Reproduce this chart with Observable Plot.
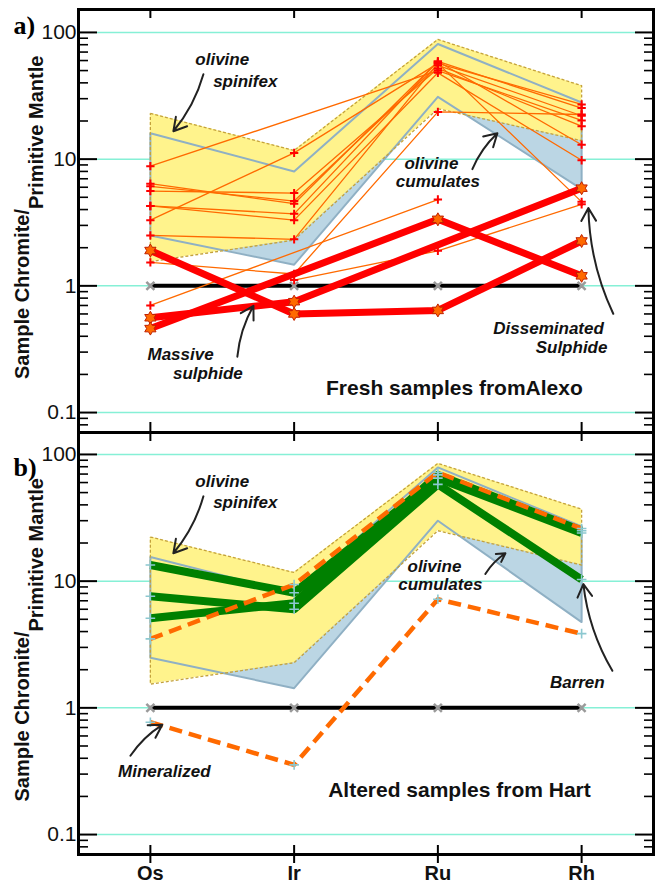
<!DOCTYPE html>
<html>
<head>
<meta charset="utf-8">
<script src="https://cdn.jsdelivr.net/npm/d3@7"></script>
<script src="https://cdn.jsdelivr.net/npm/@observablehq/plot@0.6"></script>
<style>
  body { margin: 0; background: #fff; }
  #chart { position: relative; width: 659px; height: 884px; }
  #chart svg { position: absolute; left: 0; }
</style>
</head>
<body>
<div id="chart"></div>
<script>
// ---------- data ----------
const elements = ["Os", "Ir", "Ru", "Rh"];
const elementIndex = [0, 1, 2, 3];
const yTickValues = [0.1, 1, 10, 100];
const yTickLabels = ["0.1", "1", "10", "100"];
const yMinorTicks = [0.08, 0.09, 0.2, 0.3, 0.4, 0.5, 0.6, 0.7, 0.8, 0.9, 2, 3, 4, 5, 6, 7, 8, 9, 20, 30, 40, 50, 60, 70, 80, 90];
const primitiveMantle = [1, 1, 1, 1];
const yDomainA = [0.0696, 151.7];
const yDomainB = [0.0696, 149];

// panel a : fresh samples from Alexo
const spinifexTopA = [23, 11.7, 88, 38];
const spinifexBottomA = [1.55, 2.3, 25, 14];
const cumulatesTopA = [16, 8, 81, 28];
const cumulatesBottomA = [2.5, 1.47, 31, 5.8];
const alexoThin = [
  [8.8, null, 50, 20.2],
  [3.3, 11.2, 57, 27],
  [6.4, 4.45, 59, 25.3],
  [6.1, 4.67, 55, 22],
  [5.6, 5.4, 52, 18.2],
  [4.27, 3.7, 59, 13],
  [4.27, 3.3, 48, 9.8],
  [2.5, 2.33, 57, 4.6],
  [1.53, 1.24, 23.6, 22.5],
  [0.7, null, 4.8, null],
  [null, 1.11, 1.89, 4.4]
];
const alexoSulphide = [
  [1.9, 0.6, 0.64, 2.26],
  [0.56, 0.75, null, 5.9],
  [0.46, null, 3.35, 1.2]
];

// panel b : altered samples from Hart
const spinifexTopB = [22.3, 11.7, 85, 37];
const spinifexBottomB = [1.54, 2.27, 25, 13.4];
const cumulatesTopB = [15.5, 8, 79, 27];
const cumulatesBottomB = [2.49, 1.43, 30, 4.75];
const hartBarren = [
  [13.4, 8.1, 65, 24],
  [7.6, 6.0, 58, 10.3],
  [5.1, 6.7, 69, 25]
];
const hartMineralized = [
  [3.5, 9.4, 72, 26],
  [0.77, 0.355, 7.2, 3.85]
];

// annotations (element-index x, ratio y)
const notesA = [
  {text: "olivine", x: 0.50, y: 61},
  {text: "spinifex", x: 0.66, y: 41},
  {text: "olivine", x: 1.955, y: 9.3},
  {text: "cumulates", x: 2.0, y: 6.7},
  {text: "Massive", x: 0.21, y: 0.286},
  {text: "sulphide", x: 0.40, y: 0.203},
  {text: "Disseminated", x: 2.77, y: 0.458},
  {text: "Sulphide", x: 2.93, y: 0.325}
];
const arrowsA = [
  {x1: 0.369, y1: 46.7, x2: 0.16, y2: 16.6},
  {x1: 2.24, y1: 8.34, x2: 2.414, y2: 16.0},
  {x1: 0.605, y1: 0.276, x2: 0.717, y2: 0.696},
  {x1: 3.22, y1: 0.602, x2: 3.047, y2: 4.11}
];
const captionA = [{text: "Fresh samples fromAlexo", x: 2.115, y: 0.1545}];

const notesB = [
  {text: "olivine", x: 0.50, y: 61},
  {text: "spinifex", x: 0.66, y: 41.5},
  {text: "olivine", x: 1.976, y: 13.1},
  {text: "cumulates", x: 2.017, y: 9.47},
  {text: "Barren", x: 2.97, y: 1.57},
  {text: "Mineralized", x: 0.097, y: 0.313}
];
const arrowsB = [
  {x1: 0.369, y1: 46.7, x2: 0.16, y2: 16.6},
  {x1: 2.33, y1: 11.4, x2: 2.47, y2: 16.6},
  {x1: 3.214, y1: 1.96, x2: 3.012, y2: 9.47},
  {x1: -0.139, y1: 0.419, x2: 0.083, y2: 0.735}
];
const captionB = [{text: "Altered samples from Hart", x: 2.15, y: 0.222}];

const yLabelMain = "Sample Chromite/";
const yLabelSub = "Primitive Mantle";

// ---------- helpers ----------
const FONT = "Liberation Sans, Arial, Helvetica, sans-serif";
const GRID = "#86f0d6";
const YELLOW_FILL = "#fff38c", YELLOW_LINE = "#c4a23c";
const BLUE_FILL = "#bbd6e4", BLUE_LINE = "#8fb0c4";
const FW = 575; // frame width in px (for tick insets)

const hexagram = {
  draw(context, size) {
    const r = Math.sqrt(size / Math.PI);
    const ri = r / Math.sqrt(3);
    for (let k = 0; k < 12; ++k) {
      const a = (Math.PI / 6) * k - Math.PI / 2;
      const rr = k % 2 ? ri : r;
      const px = rr * Math.cos(a), py = rr * Math.sin(a);
      if (k === 0) context.moveTo(px, py); else context.lineTo(px, py);
    }
    context.closePath();
  }
};

function seriesRows(list) {
  return list.flatMap((vals, s) => vals.map((v, i) => ({x: i, y: v, s})).filter(d => d.y != null));
}
function bandRows(top, bottom) {
  return top.map((v, i) => ({x: i, y1: bottom[i], y2: v}));
}
function ringRows(top, bottom) {
  return [...top.map((v, i) => ({x: i, y: v})),
          ...bottom.map((v, i) => ({x: i, y: v})).reverse(),
          {x: 0, y: top[0]}];
}

function fieldMarks(sTop, sBottom, cTop, cBottom) {
  return [
    Plot.ruleY(yTickValues, {stroke: GRID, strokeWidth: 1.5, insetLeft: 19, insetRight: 18}),
    Plot.areaY(bandRows(cTop, cBottom), {x: "x", y1: "y1", y2: "y2", fill: BLUE_FILL}),
    Plot.areaY(bandRows(sTop, sBottom), {x: "x", y1: "y1", y2: "y2", fill: YELLOW_FILL}),
    Plot.line(ringRows(cTop, cBottom), {x: "x", y: "y", stroke: BLUE_LINE, strokeWidth: 2}),
    Plot.line(ringRows(sTop, sBottom), {x: "x", y: "y", stroke: YELLOW_LINE, strokeWidth: 1.3, strokeDasharray: "3,2", strokeLinecap: "butt"}),
    Plot.line(primitiveMantle.map((v, i) => ({x: i, y: v})), {x: "x", y: "y", stroke: "#000", strokeWidth: 4, strokeLinecap: "butt"}),
    Plot.dot(primitiveMantle.map((v, i) => ({x: i, y: v})), {x: "x", y: "y", symbol: "times", r: 3.7, stroke: "#9a9a9a", strokeWidth: 2.5})
  ];
}

function frameMarks(frameH, panelLabel, labelDy, bottomTicksOut) {
  return [
    Plot.ruleY(yTickValues, {insetRight: FW - 19, stroke: "#000", strokeWidth: 2}),
    Plot.ruleY(yTickValues, {insetLeft: FW - 18, stroke: "#000", strokeWidth: 2}),
    Plot.ruleY(yMinorTicks, {insetRight: FW - 10, stroke: "#000", strokeWidth: 1.6}),
    Plot.ruleY(yMinorTicks, {insetLeft: FW - 9, stroke: "#000", strokeWidth: 1.6}),
    Plot.ruleX(elementIndex, {insetBottom: frameH - 9, stroke: "#000", strokeWidth: 2}),
    Plot.ruleX(elementIndex, {insetTop: frameH - (bottomTicksOut ? 9 : 10), insetBottom: bottomTicksOut ? -9 : 0, stroke: "#000", strokeWidth: 2}),
    Plot.frame({stroke: "#000", strokeWidth: 3}),
    Plot.text(yTickValues, {y: d => d, text: (d, i) => yTickLabels[i], frameAnchor: "left", textAnchor: "end", lineAnchor: "middle", dx: -2, fontSize: 21, fill: "#111"}),
    Plot.text([yLabelMain], {text: d => d, frameAnchor: "left", rotate: -90, textAnchor: "end", lineAnchor: "middle", dx: -56, dy: -12, fontSize: 20, fontWeight: "bold", fill: "#111"}),
    Plot.text([yLabelSub], {text: d => d, frameAnchor: "left", rotate: -90, textAnchor: "start", lineAnchor: "middle", dx: -42, dy: -12, fontSize: 20, fontWeight: "bold", fill: "#111"}),
    Plot.text([panelLabel], {text: d => d, frameAnchor: "top-left", textAnchor: "start", lineAnchor: "middle", dx: -65, dy: labelDy, fontFamily: "Liberation Serif, Times New Roman, serif", fontWeight: "bold", fontSize: 26, fill: "#000"})
  ];
}

function annotationMarks(notes, arrows, caption) {
  return [
    Plot.arrow(arrows, {x1: "x1", y1: "y1", x2: "x2", y2: "y2", stroke: "#222", strokeWidth: 2, headLength: 11, bend: 12}),
    Plot.text(notes, {x: "x", y: "y", text: "text", fontSize: 17, fontWeight: "bold", fontStyle: "italic", fill: "#111"}),
    Plot.text(caption, {x: "x", y: "y", text: "text", fontSize: 21, fontWeight: "bold", fill: "#111"})
  ];
}

const common = {
  width: 659, marginLeft: 78, marginRight: 6,
  x: {domain: [-0.5, 3.5], axis: null}
};

// ---------- panel a ----------
const thinRows = seriesRows(alexoThin);
const thickRows = seriesRows(alexoSulphide);
const plotA = Plot.plot({
  ...common,
  height: 432, marginTop: 9, marginBottom: 0,
  style: {background: "transparent", overflow: "visible", fontFamily: FONT},
  y: {type: "log", domain: yDomainA, axis: null},
  marks: [
    ...fieldMarks(spinifexTopA, spinifexBottomA, cumulatesTopA, cumulatesBottomA),
    Plot.line(thinRows, {x: "x", y: "y", z: "s", stroke: "#ff6a00", strokeWidth: 1.3}),
    Plot.line(thickRows, {x: "x", y: "y", z: "s", stroke: "#ff0000", strokeWidth: 7, strokeLinecap: "butt"}),
    Plot.dot(thinRows, {x: "x", y: "y", symbol: "plus", r: 2.8, stroke: "#ff0000", strokeWidth: 2}),
    Plot.dot(thickRows, {x: "x", y: "y", symbol: hexagram, r: 6.5, fill: "#ff6a00", stroke: "#c02000", strokeWidth: 1}),
    ...annotationMarks(notesA, arrowsA, captionA),
    ...frameMarks(423, "a)", 16, false)
  ]
});

// ---------- panel b ----------
const barrenRows = seriesRows(hartBarren);
const minRows = seriesRows(hartMineralized);
const plotB = Plot.plot({
  ...common,
  height: 452, marginTop: 0, marginBottom: 30,
  style: {background: "transparent", overflow: "visible", fontFamily: FONT},
  y: {type: "log", domain: yDomainB, axis: null},
  marks: [
    ...fieldMarks(spinifexTopB, spinifexBottomB, cumulatesTopB, cumulatesBottomB),
    Plot.line(barrenRows, {x: "x", y: "y", z: "s", stroke: "#008000", strokeWidth: 8, strokeLinecap: "butt"}),
    Plot.line(minRows, {x: "x", y: "y", z: "s", stroke: "#ff6a00", strokeWidth: 4.5, strokeDasharray: "13,7", strokeLinecap: "butt"}),
    Plot.dot([...barrenRows, ...minRows], {x: "x", y: "y", symbol: "plus", r: 3.2, stroke: "#8cc8d0", strokeWidth: 1.6}),
    ...annotationMarks(notesB, arrowsB, captionB),
    ...frameMarks(422, "b)", 35, true),
    Plot.text(elements, {x: (d, i) => i, text: d => d, frameAnchor: "bottom", lineAnchor: "middle", dy: 19, fontSize: 20, fontWeight: "bold", fill: "#111"})
  ]
});

const chart = document.getElementById("chart");
plotA.style.top = "0px";
plotB.style.top = "432px";
chart.appendChild(plotA);
chart.appendChild(plotB);
</script>
</body>
</html>
